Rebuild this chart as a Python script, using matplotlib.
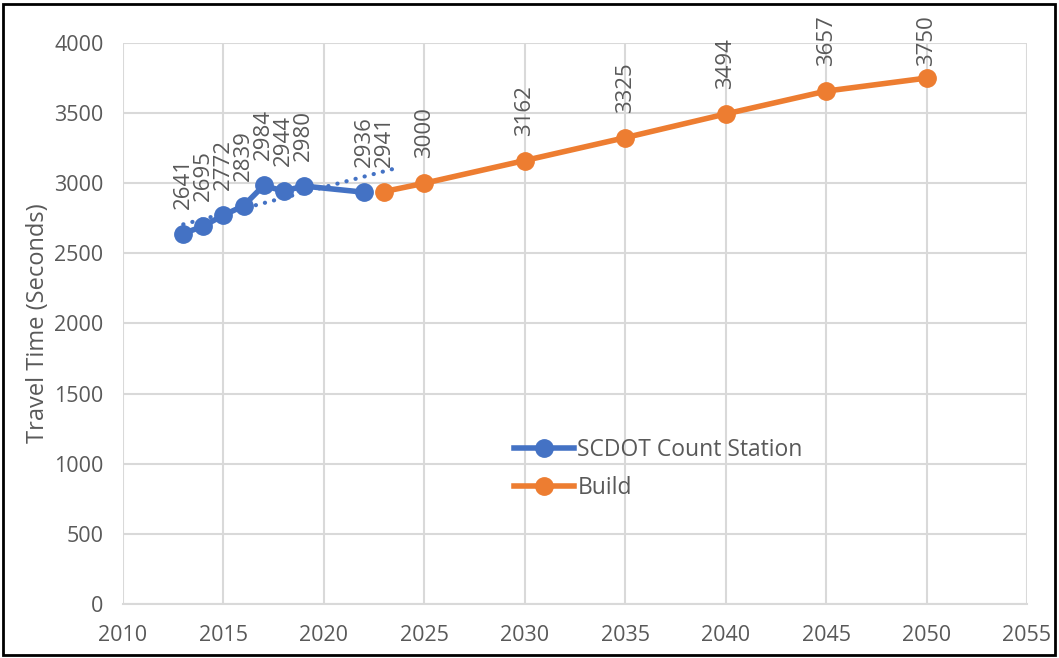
import numpy as np
import matplotlib.pyplot as plt
from matplotlib.patches import Rectangle

plt.rcParams['font.family'] = ['Open Sans', 'DejaVu Sans']

# data
count_years = [2013, 2014, 2015, 2016, 2017, 2018, 2019, 2022]
count_values = [2641, 2695, 2772, 2839, 2984, 2944, 2980, 2936]
build_years = [2023, 2025, 2030, 2035, 2040, 2045, 2050]
build_values = [2941, 3000, 3162, 3325, 3494, 3657, 3750]
x_ticks = list(range(2010, 2056, 5))
y_ticks = list(range(0, 4001, 500))

blue = '#4472C4'
orange = '#ED7D31'
grey = '#595959'

fig = plt.figure(figsize=(10.59, 6.58), dpi=100)
ax = fig.add_axes([123 / 1059, 54 / 658, 904 / 1059, 561 / 658])

ax.plot(count_years, count_values, color=blue, lw=4, marker='o', ms=12.5,
        label='SCDOT Count Station', zorder=3)
ax.plot(build_years, build_values, color=orange, lw=4, marker='o', ms=12.5,
        label='Build', zorder=3)

# linear trendline on the count data, forecast forward 1.5 years
k, b = np.polyfit(count_years, count_values, 1)
tx = np.array([count_years[0], count_years[-1] + 1.5])
ax.plot(tx, k * tx + b, color=blue, lw=3, ls=(0, (0.05, 2.2)),
        dash_capstyle='round', zorder=2)

for xs, ys in [(count_years, count_values), (build_years, build_values)]:
    for x, y in zip(xs, ys):
        # labels that would run off the top get pushed down, as in the original
        off = 18 if y < 3700 else 9
        ax.annotate(str(y), (x, y), xytext=(0, off), textcoords='offset points',
                    rotation=90, ha='center', va='bottom', fontsize=16,
                    color=grey)

ax.set_xlim(2010, 2055)
ax.set_ylim(0, 4000)
ax.set_xticks(x_ticks)
ax.set_yticks(y_ticks)
ax.grid(True, color='#D9D9D9', lw=1.5)
ax.set_axisbelow(True)
for s in ['left', 'right', 'top']:
    ax.spines[s].set_visible(False)
ax.spines['bottom'].set_color('#D9D9D9')
ax.spines['bottom'].set_linewidth(1.5)
ax.tick_params(length=0, labelsize=15.5, colors=grey)
ax.tick_params(axis='y', pad=14)
ax.tick_params(axis='x', pad=15)
ax.set_ylabel('Travel Time (Seconds)', fontsize=17, color=grey, labelpad=3)

ax.legend(loc='center left', bbox_to_anchor=(0.41, 0.24), frameon=False,
          fontsize=16.5, labelcolor=grey, handlelength=2.6, handletextpad=0.15,
          labelspacing=0.6)

fig.patches.append(Rectangle((3 / 1059, 3 / 658), 1052 / 1059, 651 / 658,
                             transform=fig.transFigure, fill=False,
                             edgecolor='black', lw=2))

fig.savefig('out.png', dpi=100)
